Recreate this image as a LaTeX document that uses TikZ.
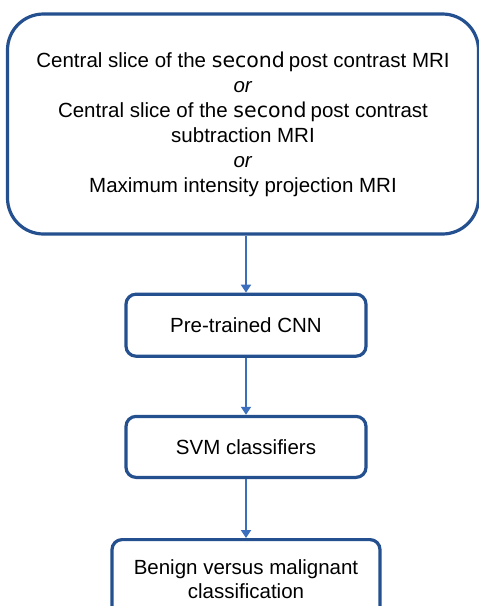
\documentclass[tikz,border=0pt]{standalone}
\usepackage{fontspec}
\setmainfont{Liberation Sans}
\newfontfamily\dejavu{DejaVu Sans}
\usetikzlibrary{arrows.meta, positioning}
\definecolor{boxBlue}{HTML}{24508F}
\definecolor{flowBlue}{HTML}{3C6EBE}

\tikzset{
  stage/.style={draw=boxBlue, line width=3.2pt, rounded corners=10pt,
    align=center, fill=white, inner sep=0pt},
  flow/.style={draw=flowBlue, line width=2.6pt,
    -{Triangle[width=10pt, length=8pt]}},
}
\newcommand{\secword}{{\dejavu second}\hspace{4pt}}

\begin{document}
\begin{tikzpicture}[node distance=57pt, font=\fontsize{20.5}{25}\selectfont]
  \useasboundingbox (0,0) rectangle (479pt,-606pt);

  % input images
  \node[stage, rounded corners=36pt, minimum width=471pt,
        minimum height=220pt] (img) at (243pt,-124pt)
        {Central slice of the \secword post contrast MRI\\
         \textit{or}\\
         Central slice of the \secword post contrast\\
         subtraction MRI\\
         \textit{or}\\
         Maximum intensity projection MRI};

  % pipeline
  \node[stage, minimum width=240pt, minimum height=62pt,
        below=of img, xshift=3pt] (cnn) {Pre-trained CNN};
  \node[stage, minimum width=240pt, minimum height=61pt,
        below=57pt of cnn] (svm) {SVM classifiers};
  \node[stage, minimum width=268pt, minimum height=80pt,
        below=59pt of svm, font=\fontsize{20.5}{24}\selectfont] (cls)
        {Benign versus malignant\\classification};

  \draw[flow] (img.south -| cnn.north) -- (cnn.north);
  \draw[flow] (cnn) -- (svm);
  \draw[flow] (svm) -- (cls);
\end{tikzpicture}
\end{document}
